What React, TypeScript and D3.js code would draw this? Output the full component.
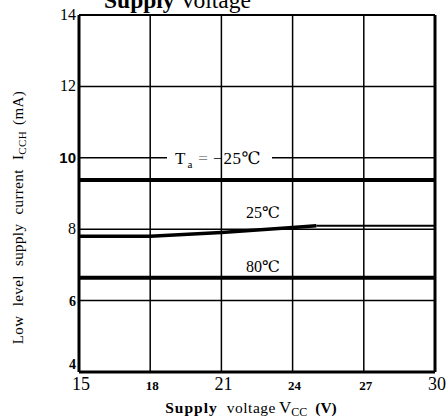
import React from "react";
import * as d3 from "d3";

// Supply voltage axis (V) and current axis (mA)
const xTicks = [15, 18, 21, 24, 27, 30];
const yTicks = [4, 6, 8, 10, 12, 14];

// Low level supply current vs supply voltage, per ambient temperature
const voltsMinus25 = [15, 30];
const currentMinus25 = [9.38, 9.38];

const volts25 = [15, 18, 21, 24, 25, 30];
const current25 = [7.8, 7.8, 7.91, 8.05, 8.1, 8.1];

const volts80 = [15, 30];
const current80 = [6.64, 6.64];

const W = 446;
const H = 420;
const m = { left: 79, right: 435, top: 15, bottom: 372 };

const serif = "'Liberation Serif', 'DejaVu Serif', serif";

export default function App() {
  const x = d3.scaleLinear().domain([15, 30]).range([m.left, m.right]);
  const y = d3.scaleLinear().domain([4, 14]).range([m.bottom, m.top]);

  const line = d3
    .line<[number, number]>()
    .x((d) => x(d[0]))
    .y((d) => y(d[1]));

  const pts = (xs: number[], ys: number[]) =>
    xs.map((v, i) => [v, ys[i]] as [number, number]);

  const p25 = pts(volts25, current25);
  const split = volts25.indexOf(25);

  // per-label styling of tick numbers
  const yTickStyle: Record<number, { w: number; f: string; s: number; dy: number }> = {
    4: { w: 700, f: serif, s: 14, dy: -3 },
    6: { w: 700, f: serif, s: 14, dy: 5 },
    8: { w: 400, f: serif, s: 16, dy: 5 },
    10: { w: 700, f: "'Liberation Sans Narrow', 'Liberation Sans', sans-serif", s: 15, dy: 5 },
    12: { w: 400, f: serif, s: 16, dy: 5 },
    14: { w: 400, f: serif, s: 16, dy: 5 },
  };
  const xTickStyle: Record<number, { w: number; s: number }> = {
    15: { w: 400, s: 18 },
    18: { w: 700, s: 13 },
    21: { w: 400, s: 18 },
    24: { w: 700, s: 13 },
    27: { w: 700, s: 13 },
    30: { w: 400, s: 18 },
  };

  return (
    <svg
      width={W}
      height={H}
      style={{ position: "absolute", left: 0, top: 0, display: "block", background: "#fff" }}
      fontFamily={serif}
    >
      <rect x={0} y={0} width={W} height={H} fill="#fff" />

      {/* heading, partly cut off at the top */}
      <text x={104} y={8} fontSize={23.5} fill="#000">
        <tspan fontWeight={700}>Supply</tspan>
        <tspan dx={5}>Voltage</tspan>
      </text>

      {/* horizontal grid */}
      {yTicks
        .filter((t) => t !== 4 && t !== 14)
        .map((t) => (
          <line key={"h" + t} x1={m.left} x2={m.right} y1={y(t)} y2={y(t)} stroke="#000" strokeWidth={1.5} />
        ))}

      {/* break in the 10 mA grid line behind the -25 label */}
      <rect x={167} y={y(10) - 5} width={105} height={10} fill="#fff" />

      {/* vertical grid */}
      {xTicks
        .filter((t) => t !== 15 && t !== 30)
        .map((t) => (
          <line key={"v" + t} x1={x(t)} x2={x(t)} y1={m.top} y2={m.bottom} stroke="#000" strokeWidth={1.5} />
        ))}

      {/* frame */}
      <line x1={m.left} x2={m.right} y1={m.top} y2={m.top} stroke="#000" strokeWidth={2} />
      <line x1={m.left} x2={m.right} y1={m.bottom} y2={m.bottom} stroke="#000" strokeWidth={3} />
      <line x1={m.left} x2={m.left} y1={m.top} y2={m.bottom} stroke="#000" strokeWidth={3} />
      <line x1={m.right} x2={m.right} y1={m.top} y2={m.bottom} stroke="#000" strokeWidth={3} />

      {/* curves */}
      <path d={line(pts(voltsMinus25, currentMinus25)) ?? ""} fill="none" stroke="#000" strokeWidth={4} />
      <path d={line(p25.slice(0, split + 1)) ?? ""} fill="none" stroke="#000" strokeWidth={3.5} />
      <path d={line(p25.slice(split)) ?? ""} fill="none" stroke="#000" strokeWidth={2} />
      <path d={line(pts(volts80, current80)) ?? ""} fill="none" stroke="#000" strokeWidth={4} />

      {/* curve labels */}
      <text x={175} y={y(10) + 6} fontSize={17} fill="#000">
        T
        <tspan fontSize={11} dy={4} dx={2}>a</tspan>
        <tspan dy={-4} dx={6} fill="#888">=</tspan>
        <tspan dx={5}>−</tspan>
        <tspan dx={1} letterSpacing={0.5}>25℃</tspan>
      </text>
      <text x={263} y={y(8) - 11} fontSize={16} textAnchor="middle" fill="#000">25℃</text>
      <text x={263} y={y(6.64) - 6} fontSize={16} textAnchor="middle" fill="#000">80℃</text>

      {/* y tick labels */}
      {yTicks.map((t) => {
        const s = yTickStyle[t];
        return (
          <text
            key={"yl" + t}
            x={m.left - 3}
            y={y(t) + s.dy}
            textAnchor="end"
            fontSize={s.s}
            fontWeight={s.w}
            fontFamily={s.f}
            fill="#000"
          >
            {t}
          </text>
        );
      })}

      {/* x tick labels */}
      {xTicks.map((t) => {
        const s = xTickStyle[t];
        return (
          <text
            key={"xl" + t}
            x={x(t) + 2}
            y={m.bottom + 18}
            textAnchor="middle"
            fontSize={s.s}
            fontWeight={s.w}
            fill="#000"
          >
            {t}
          </text>
        );
      })}

      {/* axis titles */}
      <text x={251} y={413} textAnchor="middle" fontSize={15.5} fill="#000">
        <tspan fontWeight={700} letterSpacing={1}>Supply</tspan>
        <tspan dx={9} letterSpacing={0.5}>voltage</tspan>
        <tspan dx={3} fontSize={17}>V</tspan>
        <tspan fontSize={12} dy={3}>CC</tspan>
        <tspan dy={-3} dx={8} fontWeight={700}>(V)</tspan>
      </text>
      <text
        transform={`translate(23, ${(m.top + m.bottom) / 2 + 24}) rotate(-90)`}
        textAnchor="middle"
        fontSize={15}
        wordSpacing={5}
        letterSpacing={0.4}
        fill="#000"
      >
        Low level supply current I
        <tspan fontSize={11} dy={3}>CCH</tspan>
        <tspan dy={-3} dx={6}>(mA)</tspan>
      </text>
    </svg>
  );
}
